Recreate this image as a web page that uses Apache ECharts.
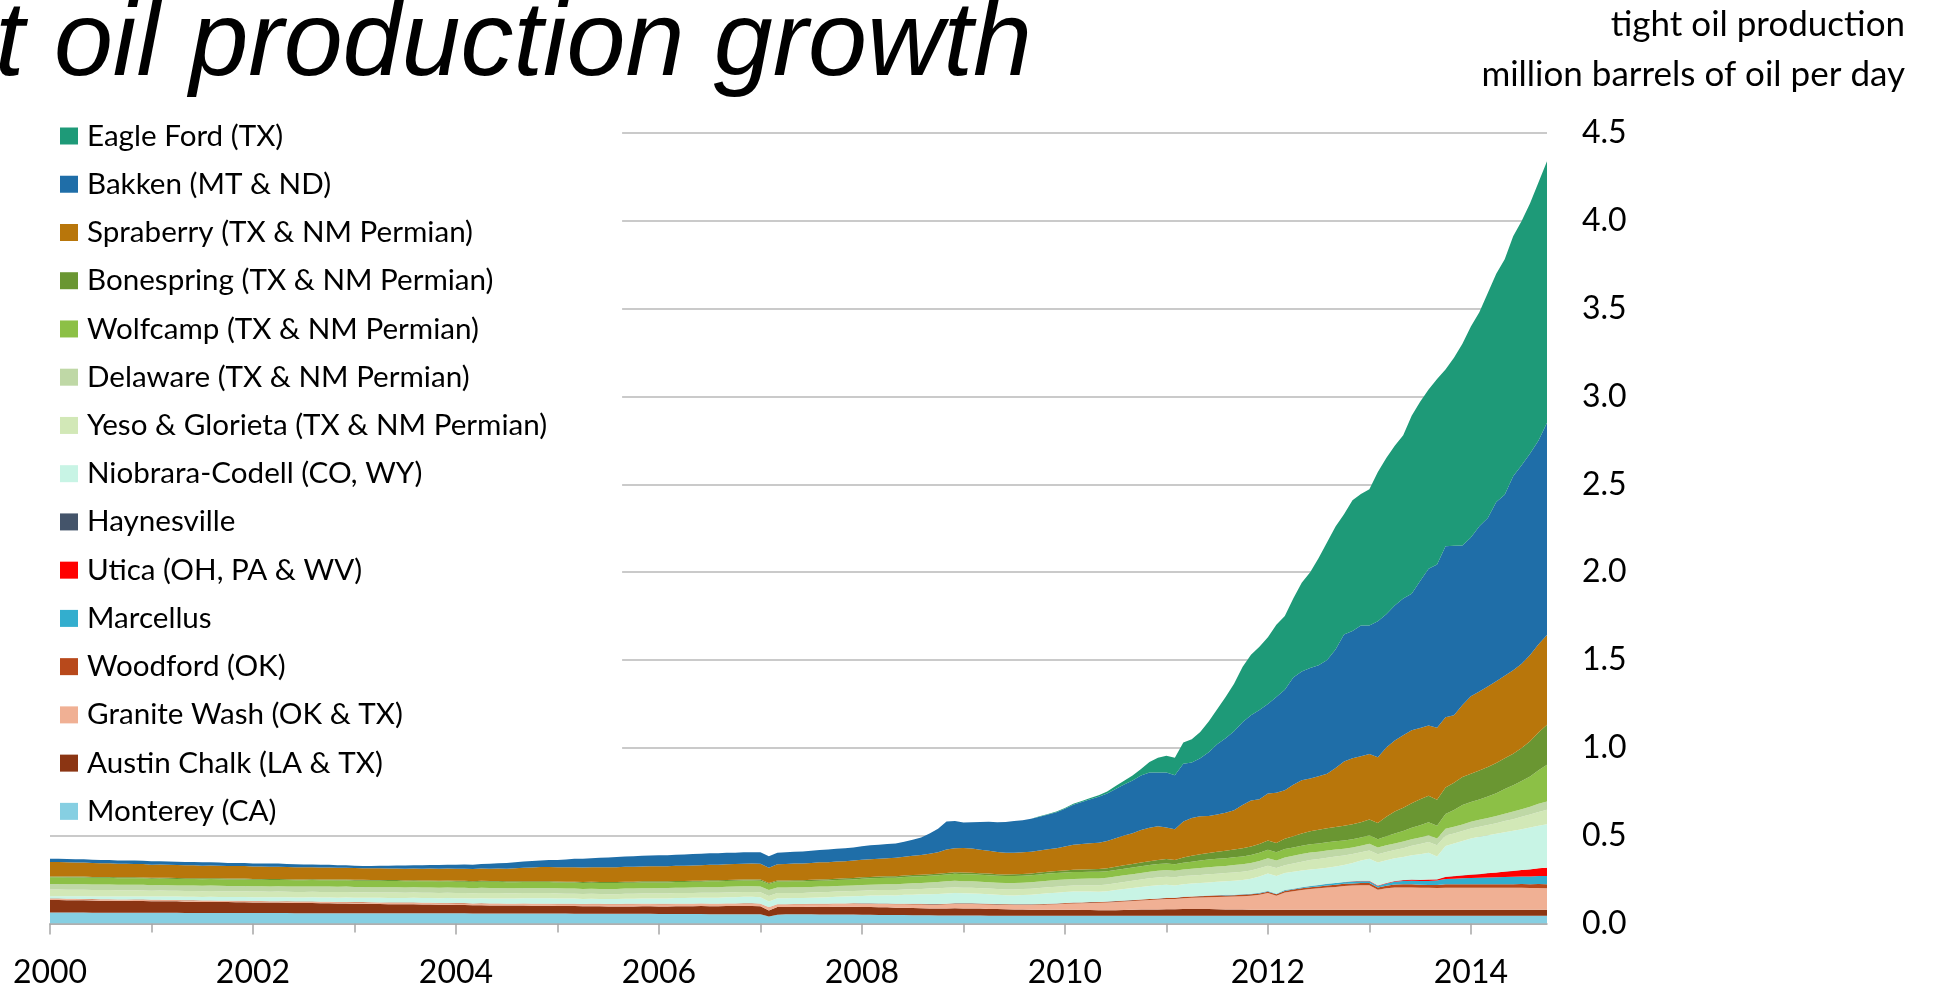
<!DOCTYPE html>
<html><head><meta charset="utf-8">
<script src="https://cdn.jsdelivr.net/npm/echarts@6/dist/echarts.min.js"></script>
<style>html,body{margin:0;padding:0;background:#fff}#c{width:1936px;height:989px}</style>
</head><body><div id="c"></div>
<script>
// monthly categories Jan 2000 .. Oct 2014
const firstYear = 2000, lastYear = 2014, lastMonth = 10;
const months = [];
for (let y = firstYear; y <= lastYear; y++) {
  for (let m = 1; m <= 12; m++) {
    if (y === lastYear && m > lastMonth) break;
    months.push(y + '-' + String(m).padStart(2, '0'));
  }
}
const yTicks = [0, 0.5, 1, 1.5, 2, 2.5, 3, 3.5, 4, 4.5];

// million barrels per day, one value per month (stack order bottom -> top)
const monterey = [
.062,.062,.062,.062,.062,.061,.061,.061,.061,.061,.061,.061,
.061,.061,.061,.061,.060,.060,.060,.060,.060,.060,.060,.060,
.060,.060,.060,.060,.060,.059,.059,.059,.059,.059,.059,.059,
.059,.059,.059,.058,.058,.058,.058,.058,.058,.058,.058,.058,
.058,.058,.057,.057,.057,.057,.057,.057,.057,.057,.057,.057,
.057,.057,.056,.056,.056,.056,.055,.055,.055,.055,.055,.055,
.054,.054,.054,.054,.054,.054,.053,.053,.053,.053,.053,.053,
.052,.040,.050,.052,.052,.052,.052,.051,.051,.051,.051,.051,
.050,.050,.049,.049,.048,.048,.047,.047,.047,.046,.046,.046,
.045,.045,.045,.044,.044,.044,.044,.044,.044,.044,.044,.044,
.044,.044,.044,.044,.044,.044,.044,.044,.044,.044,.044,.044,
.044,.044,.044,.044,.044,.044,.044,.044,.044,.044,.044,.044,
.044,.044,.044,.044,.044,.044,.044,.044,.044,.044,.044,.044,
.044,.044,.044,.044,.044,.044,.044,.044,.044,.044,.044,.044,
.044,.044,.044,.044,.044,.044,.044,.044,.044,.044];
const austinChalk = [
.072,.072,.071,.071,.070,.070,.069,.069,.068,.068,.067,.067,
.066,.066,.065,.065,.064,.064,.063,.063,.062,.062,.061,.061,
.060,.060,.059,.059,.058,.058,.057,.057,.056,.056,.055,.055,
.054,.054,.053,.053,.052,.052,.051,.051,.050,.050,.049,.049,
.048,.048,.047,.047,.046,.046,.045,.045,.045,.044,.044,.044,
.043,.043,.043,.042,.042,.042,.042,.042,.042,.042,.043,.043,
.043,.043,.044,.044,.044,.045,.045,.045,.046,.046,.047,.047,
.046,.034,.044,.042,.042,.042,.043,.043,.043,.044,.044,.044,
.044,.044,.043,.043,.042,.042,.041,.040,.039,.039,.040,.041,
.041,.041,.040,.039,.038,.037,.036,.035,.034,.034,.034,.034,
.034,.034,.033,.033,.032,.032,.032,.033,.034,.035,.036,.036,
.037,.037,.038,.038,.038,.038,.037,.036,.035,.035,.034,.034,
.034,.034,.034,.034,.034,.034,.034,.034,.034,.034,.034,.034,
.034,.034,.034,.034,.034,.034,.034,.034,.034,.034,.034,.034,
.034,.034,.034,.034,.034,.034,.034,.034,.034,.034];
const graniteWash = [
.006,.006,.006,.006,.006,.006,.006,.006,.006,.006,.006,.006,
.006,.006,.006,.006,.006,.006,.006,.006,.006,.006,.006,.006,
.006,.006,.006,.006,.006,.006,.007,.007,.007,.007,.007,.007,
.007,.007,.007,.007,.007,.007,.008,.008,.008,.008,.008,.008,
.008,.008,.008,.009,.009,.009,.009,.009,.010,.010,.010,.010,
.010,.010,.011,.011,.012,.012,.012,.012,.013,.013,.013,.013,
.013,.013,.013,.013,.013,.013,.013,.013,.013,.013,.013,.013,
.013,.017,.014,.014,.015,.015,.015,.016,.016,.017,.017,.018,
.018,.018,.019,.019,.019,.020,.020,.021,.021,.022,.023,.024,
.025,.025,.025,.025,.025,.025,.025,.026,.027,.028,.030,.032,
.034,.036,.038,.040,.042,.044,.046,.048,.050,.052,.054,.056,
.058,.058,.062,.064,.066,.068,.070,.072,.074,.076,.080,.085,
.095,.080,.098,.106,.112,.118,.122,.127,.130,.135,.138,.140,
.140,.114,.122,.127,.127,.127,.126,.126,.124,.126,.126,.126,
.126,.126,.126,.125,.125,.125,.125,.124,.124,.123];
const woodford = [
.002,.002,.002,.002,.002,.002,.002,.002,.002,.002,.002,.002,
.002,.002,.002,.002,.002,.002,.002,.002,.002,.002,.002,.002,
.002,.002,.002,.002,.002,.002,.002,.002,.002,.002,.002,.002,
.002,.002,.002,.002,.002,.002,.002,.002,.002,.002,.002,.002,
.002,.002,.002,.002,.002,.002,.002,.002,.002,.002,.002,.002,
.002,.002,.002,.002,.002,.002,.002,.002,.002,.002,.002,.002,
.002,.002,.002,.002,.002,.002,.002,.002,.002,.002,.002,.002,
.002,.002,.002,.002,.002,.002,.002,.002,.002,.002,.002,.002,
.002,.002,.002,.002,.002,.002,.003,.003,.003,.003,.003,.003,
.003,.003,.003,.003,.003,.003,.003,.003,.003,.003,.003,.003,
.004,.004,.004,.004,.004,.004,.005,.005,.005,.005,.005,.005,
.006,.006,.007,.007,.007,.008,.008,.008,.008,.008,.008,.008,
.008,.008,.009,.009,.010,.010,.011,.012,.013,.013,.012,.012,
.013,.013,.015,.017,.018,.018,.016,.015,.017,.019,.019,.019,
.019,.019,.020,.020,.021,.021,.022,.022,.023,.023];
const marcellus = [
0,0,0,0,0,0,0,0,0,0,0,0,
0,0,0,0,0,0,0,0,0,0,0,0,
0,0,0,0,0,0,0,0,0,0,0,0,
0,0,0,0,0,0,0,0,0,0,0,0,
0,0,0,0,0,0,0,0,0,0,0,0,
0,0,0,0,0,0,0,0,0,0,0,0,
0,0,0,0,0,0,0,0,0,0,0,0,
0,0,0,0,0,0,0,0,0,0,0,0,
0,0,0,0,0,0,0,0,0,0,0,0,
0,0,0,0,0,0,0,0,0,0,0,0,
0,0,0,0,0,0,0,0,0,0,0,0,
0,0,0,0,0,.001,.001,.002,.002,.002,.003,.003,
.003,.003,.004,.004,.005,.006,.007,.008,.009,.009,.010,.010,
.010,.009,.012,.016,.019,.021,.022,.023,.026,.030,.032,.034,
.036,.037,.038,.040,.041,.042,.043,.044,.046,.047];
const utica = [
0,0,0,0,0,0,0,0,0,0,0,0,
0,0,0,0,0,0,0,0,0,0,0,0,
0,0,0,0,0,0,0,0,0,0,0,0,
0,0,0,0,0,0,0,0,0,0,0,0,
0,0,0,0,0,0,0,0,0,0,0,0,
0,0,0,0,0,0,0,0,0,0,0,0,
0,0,0,0,0,0,0,0,0,0,0,0,
0,0,0,0,0,0,0,0,0,0,0,0,
0,0,0,0,0,0,0,0,0,0,0,0,
0,0,0,0,0,0,0,0,0,0,0,0,
0,0,0,0,0,0,0,0,0,0,0,0,
0,0,0,0,0,0,0,0,0,0,0,0,
0,0,0,0,0,0,0,0,0,0,.001,.002,
.002,.002,.003,.003,.004,.005,.006,.008,.006,.012,.014,.016,
.019,.021,.024,.027,.030,.033,.036,.040,.043,.047];
const haynesville = [
0,0,0,0,0,0,0,0,0,0,0,0,
0,0,0,0,0,0,0,0,0,0,0,0,
0,0,0,0,0,0,0,0,0,0,0,0,
0,0,0,0,0,0,0,0,0,0,0,0,
0,0,0,0,0,0,0,0,0,0,0,0,
0,0,0,0,0,0,0,0,0,0,0,0,
0,0,0,0,0,0,0,0,0,0,0,0,
0,0,0,0,0,0,0,0,0,0,0,0,
.001,.001,.001,.001,.001,.001,.001,.001,.001,.001,.001,.001,
.001,.001,.001,.001,.001,.001,.001,.001,.001,.001,.001,.001,
.001,.001,.001,.001,.001,.001,.001,.001,.001,.001,.001,.001,
.001,.001,.001,.001,.001,.001,.001,.001,.001,.001,.001,.001,
.001,.001,.001,.001,.001,.001,.001,.001,.001,.001,.001,.001,
.001,.001,.001,.001,.001,.001,.001,.001,.001,.001,.001,.001,
.001,.001,.001,.001,.001,.001,.001,.001,.001,.001];
const niobrara = [
.013,.013,.014,.014,.015,.015,.016,.016,.017,.017,.018,.018,
.018,.019,.019,.019,.020,.020,.020,.021,.021,.021,.022,.022,
.022,.022,.022,.023,.023,.023,.023,.024,.024,.024,.024,.025,
.025,.025,.025,.026,.026,.026,.026,.027,.027,.027,.027,.028,
.028,.028,.028,.029,.029,.029,.030,.030,.030,.031,.031,.031,
.031,.030,.030,.029,.029,.028,.028,.028,.029,.029,.030,.030,
.031,.031,.032,.032,.033,.033,.034,.034,.035,.036,.037,.037,
.036,.032,.034,.034,.034,.034,.035,.036,.037,.038,.039,.040,
.042,.044,.046,.047,.048,.050,.052,.054,.056,.057,.058,.058,
.057,.056,.055,.054,.052,.051,.051,.053,.055,.058,.060,.061,
.062,.063,.062,.060,.058,.059,.062,.065,.068,.071,.074,.076,
.075,.071,.072,.073,.074,.074,.076,.078,.080,.082,.085,.092,
.100,.100,.097,.097,.096,.095,.093,.091,.093,.097,.105,.115,
.125,.130,.129,.129,.132,.138,.145,.152,.130,.175,.185,.195,
.205,.212,.216,.220,.224,.228,.232,.237,.242,.246];
const yeso = [
.038,.038,.037,.037,.037,.036,.036,.036,.035,.035,.035,.034,
.034,.034,.034,.033,.033,.033,.033,.033,.033,.032,.032,.032,
.032,.032,.032,.032,.032,.032,.032,.032,.032,.032,.032,.032,
.031,.031,.031,.031,.031,.031,.030,.030,.030,.030,.030,.030,
.030,.030,.030,.030,.030,.030,.029,.029,.029,.029,.029,.029,
.028,.028,.028,.028,.028,.028,.028,.028,.028,.028,.028,.028,
.028,.028,.028,.028,.028,.028,.028,.028,.028,.028,.028,.028,
.029,.032,.029,.029,.029,.029,.029,.030,.030,.030,.030,.030,
.030,.030,.030,.030,.030,.030,.031,.031,.032,.032,.032,.032,
.032,.032,.032,.033,.033,.033,.034,.034,.034,.034,.034,.034,
.034,.034,.035,.036,.037,.038,.039,.040,.041,.042,.043,.044,
.045,.046,.046,.046,.046,.046,.046,.046,.047,.047,.047,.047,
.044,.046,.045,.047,.050,.053,.055,.057,.057,.054,.050,.047,
.047,.047,.047,.047,.050,.054,.058,.061,.064,.060,.058,.057,
.057,.057,.058,.060,.063,.066,.070,.074,.078,.082];
const delaware = [
.032,.032,.032,.032,.032,.032,.032,.032,.032,.032,.032,.032,
.031,.031,.031,.031,.031,.031,.031,.031,.031,.031,.031,.031,
.030,.030,.030,.030,.030,.030,.030,.030,.030,.030,.030,.030,
.030,.030,.030,.030,.030,.030,.030,.030,.030,.030,.030,.030,
.029,.029,.029,.029,.029,.029,.029,.029,.029,.029,.029,.029,
.029,.029,.029,.029,.029,.029,.030,.030,.030,.030,.030,.030,
.031,.031,.031,.031,.031,.031,.032,.032,.032,.032,.032,.032,
.032,.034,.032,.032,.032,.032,.032,.032,.032,.032,.032,.032,
.032,.032,.032,.032,.033,.033,.034,.034,.035,.036,.037,.038,
.037,.037,.036,.036,.036,.036,.036,.036,.037,.037,.038,.038,
.038,.038,.038,.038,.038,.038,.038,.038,.038,.038,.038,.038,
.038,.037,.038,.039,.040,.040,.041,.041,.042,.042,.042,.042,
.043,.043,.044,.044,.044,.043,.042,.041,.040,.039,.038,.038,
.038,.038,.038,.038,.038,.038,.038,.038,.038,.038,.038,.038,
.038,.039,.040,.041,.042,.043,.044,.045,.047,.048];
const wolfcamp = [
.038,.038,.038,.038,.038,.038,.038,.038,.037,.037,.037,.037,
.037,.037,.037,.037,.037,.037,.037,.037,.037,.037,.037,.037,
.037,.037,.037,.036,.036,.036,.036,.036,.036,.036,.036,.036,
.036,.036,.036,.036,.036,.036,.035,.035,.035,.035,.035,.035,
.035,.035,.035,.035,.035,.035,.034,.034,.034,.034,.034,.034,
.034,.034,.034,.034,.034,.034,.033,.033,.033,.033,.033,.033,
.032,.032,.032,.032,.032,.032,.033,.033,.033,.033,.033,.033,
.034,.034,.034,.034,.034,.034,.034,.034,.034,.034,.034,.034,
.036,.036,.037,.037,.037,.038,.038,.038,.038,.038,.039,.040,
.040,.040,.040,.040,.040,.040,.040,.040,.040,.040,.040,.040,
.039,.039,.038,.038,.038,.038,.038,.038,.038,.038,.038,.038,
.038,.037,.038,.040,.042,.044,.044,.044,.044,.045,.046,.047,
.048,.047,.048,.047,.047,.047,.047,.047,.047,.047,.047,.047,
.048,.048,.052,.056,.060,.065,.070,.075,.072,.085,.095,.110,
.112,.116,.122,.130,.140,.150,.160,.172,.190,.208];
const bonespring = [
.005,.005,.005,.005,.005,.005,.005,.005,.005,.005,.005,.005,
.005,.005,.005,.005,.005,.005,.005,.005,.005,.005,.005,.005,
.005,.005,.005,.005,.005,.005,.005,.005,.005,.005,.005,.005,
.005,.005,.005,.005,.005,.005,.005,.005,.005,.005,.005,.005,
.005,.005,.005,.005,.005,.005,.005,.005,.005,.005,.005,.005,
.005,.005,.005,.005,.005,.005,.006,.006,.006,.006,.006,.006,
.006,.006,.006,.006,.006,.006,.006,.006,.006,.006,.006,.006,
.006,.005,.006,.006,.006,.006,.007,.007,.007,.007,.008,.008,
.008,.008,.008,.009,.009,.009,.009,.009,.009,.009,.009,.009,
.009,.009,.009,.009,.009,.009,.010,.010,.010,.011,.011,.012,
.012,.013,.014,.015,.016,.017,.018,.019,.020,.021,.022,.023,
.025,.024,.030,.033,.036,.038,.040,.042,.044,.046,.048,.050,
.052,.052,.058,.064,.070,.074,.077,.080,.082,.084,.085,.086,
.090,.092,.110,.125,.132,.140,.148,.150,.148,.150,.155,.160,
.162,.165,.168,.172,.176,.180,.188,.200,.215,.228];
const spraberry = [
.082,.082,.081,.080,.080,.079,.078,.078,.077,.077,.076,.076,
.075,.075,.074,.074,.073,.073,.072,.072,.072,.071,.071,.071,
.070,.070,.070,.070,.069,.069,.069,.068,.068,.068,.067,.067,
.067,.066,.066,.066,.066,.066,.067,.067,.067,.068,.068,.068,
.069,.069,.069,.070,.070,.071,.072,.074,.076,.078,.080,.081,
.081,.082,.082,.083,.083,.084,.084,.084,.085,.085,.085,.086,
.086,.086,.087,.087,.087,.088,.088,.088,.089,.089,.089,.090,
.090,.088,.092,.094,.095,.096,.096,.097,.097,.098,.098,.099,
.100,.101,.102,.103,.105,.107,.109,.112,.116,.122,.133,.137,
.140,.138,.134,.130,.126,.124,.123,.123,.124,.126,.127,.130,
.136,.142,.146,.148,.150,.155,.162,.170,.175,.185,.190,.193,
.180,.175,.204,.215,.216,.210,.212,.216,.224,.247,.262,.254,
.268,.287,.276,.293,.302,.300,.305,.310,.335,.365,.375,.376,
.373,.375,.395,.405,.412,.415,.405,.400,.410,.400,.385,.410,
.440,.450,.458,.465,.470,.474,.480,.492,.502,.512];
const bakken = [
.019,.019,.019,.019,.019,.019,.019,.019,.019,.019,.019,.019,
.019,.019,.019,.019,.019,.019,.019,.018,.018,.018,.018,.018,
.018,.018,.018,.018,.017,.017,.016,.016,.015,.015,.014,.014,
.013,.013,.014,.015,.016,.017,.018,.019,.019,.020,.021,.022,
.023,.024,.025,.026,.028,.030,.032,.034,.036,.037,.038,.040,
.042,.045,.048,.050,.052,.054,.056,.058,.059,.060,.060,.061,
.062,.063,.063,.064,.065,.065,.066,.066,.066,.065,.065,.065,
.065,.065,.066,.066,.067,.068,.069,.070,.072,.073,.074,.075,
.077,.079,.080,.080,.082,.086,.092,.100,.115,.135,.160,.155,
.145,.150,.158,.165,.170,.175,.180,.183,.187,.192,.198,.205,
.215,.228,.238,.250,.262,.270,.280,.290,.300,.310,.315,.305,
.313,.308,.330,.316,.330,.363,.400,.425,.450,.470,.485,.508,
.510,.545,.572,.610,.620,.630,.632,.648,.675,.723,.725,.745,
.732,.773,.758,.768,.779,.777,.837,.893,.930,.974,.964,.908,
.905,.941,.960,1.020,1.030,1.105,1.130,1.146,1.161,1.207];
const eagleFord = [
0,0,0,0,0,0,0,0,0,0,0,0,
0,0,0,0,0,0,0,0,0,0,0,0,
0,0,0,0,0,0,0,0,0,0,0,0,
0,0,0,0,0,0,0,0,0,0,0,0,
0,0,0,0,0,0,0,0,0,0,0,0,
0,0,0,0,0,0,0,0,0,0,0,0,
0,0,0,0,0,0,0,0,0,0,0,0,
0,0,0,0,0,0,0,0,0,0,0,0,
0,0,0,0,0,0,0,0,0,0,0,0,
0,0,0,0,0,0,0,0,0,.002,.003,.004,
.005,.006,.007,.007,.008,.012,.018,.022,.028,.038,.060,.085,
.095,.100,.120,.133,.150,.175,.200,.235,.270,.315,.345,.360,
.380,.410,.420,.450,.505,.545,.610,.670,.700,.685,.745,.748,
.775,.850,.890,.910,.930,1.013,1.020,1.020,1.056,1.006,1.070,1.148,
1.200,1.218,1.280,1.300,1.340,1.366,1.390,1.425,1.470,1.489];

// stack order, bottom first
const plays = [
  {name: 'Monterey (CA)', data: monterey, color: '#86cfe2'},
  {name: 'Austin Chalk (LA & TX)', data: austinChalk, color: '#8b3513'},
  {name: 'Granite Wash (OK & TX)', data: graniteWash, color: '#f0b094'},
  {name: 'Woodford (OK)', data: woodford, color: '#b8491b'},
  {name: 'Marcellus', data: marcellus, color: '#33aece'},
  {name: 'Utica (OH, PA & WV)', data: utica, color: '#ff0000'},
  {name: 'Haynesville', data: haynesville, color: '#44546a'},
  {name: 'Niobrara-Codell (CO, WY)', data: niobrara, color: '#c8f4e5'},
  {name: 'Yeso & Glorieta (TX & NM Permian)', data: yeso, color: '#d2e8b7'},
  {name: 'Delaware (TX & NM Permian)', data: delaware, color: '#bfd8a6'},
  {name: 'Wolfcamp (TX & NM Permian)', data: wolfcamp, color: '#8cc046'},
  {name: 'Bonespring (TX & NM Permian)', data: bonespring, color: '#6a9632'},
  {name: 'Spraberry (TX & NM Permian)', data: spraberry, color: '#b8760b'},
  {name: 'Bakken (MT & ND)', data: bakken, color: '#1f6ea8'},
  {name: 'Eagle Ford (TX)', data: eagleFord, color: '#1e9a78'}
];

const axisGray = '#a6a6a6';
const chart = echarts.init(document.getElementById('c'), null, {renderer: 'canvas'});
chart.setOption({
  animation: false,
  backgroundColor: '#ffffff',
  title: [
    {text: 't oil production growth', left: -5, top: -7, padding: 0,
     textStyle: {fontFamily: 'Liberation Sans', fontStyle: 'italic', fontWeight: 'normal', fontSize: 106, color: '#000'}},
    {text: 'tight oil production\nmillion barrels of oil per day', left: 1905, top: 0, padding: 0, textAlign: 'right',
     textStyle: {fontFamily: 'Lato', fontWeight: 'normal', fontSize: 35, lineHeight: 49.5, color: '#000'}}
  ],
  legend: {
    orient: 'vertical', left: 48, top: 109, padding: [12, 75, 5, 12],
    backgroundColor: '#ffffff',
    itemWidth: 22, itemHeight: 17, itemGap: 18.24,
    icon: 'path://M0,0h18v17h-18z M22,17',
    itemStyle: {borderWidth: 0},
    selectedMode: false,
    textStyle: {fontFamily: 'Lato', fontSize: 29.6, lineHeight: 30, color: '#000'},
    data: plays.map(p => p.name).reverse()
  },
  grid: {left: 50, right: 389, top: 133, bottom: 65},
  xAxis: [{
    type: 'category', data: months, boundaryGap: false, position: 'bottom',
    axisLine: {lineStyle: {color: axisGray, width: 1.5}},
    axisTick: {interval: (i) => i % 24 === 0, length: 11, lineStyle: {color: axisGray, width: 1.5}},
    axisLabel: {interval: (i) => i % 24 === 0, formatter: (v) => v.slice(0, 4), margin: 33.5,
      fontFamily: 'Lato', fontSize: 32, color: '#000'},
    splitLine: {show: false}
  }, {
    type: 'category', data: months, boundaryGap: false, position: 'bottom',
    axisLine: {show: false},
    axisTick: {interval: (i) => i % 24 === 12, length: 9, lineStyle: {color: axisGray, width: 1.5}},
    axisLabel: {show: false},
    splitLine: {show: false}
  }],
  yAxis: {
    type: 'value', position: 'right', min: yTicks[0], max: yTicks[yTicks.length - 1], interval: 0.5,
    axisLine: {show: false}, axisTick: {show: false},
    axisLabel: {margin: 35, fontFamily: 'Lato', fontSize: 32, color: '#000', formatter: (v) => v.toFixed(1)},
    splitLine: {lineStyle: {color: '#b8b8b8', width: 1.5}}
  },
  series: plays.map(p => ({
    name: p.name, type: 'line', stack: 'tight', data: p.data, color: p.color,
    xAxisIndex: 0, symbol: 'none', smooth: false,
    lineStyle: {width: 0},
    itemStyle: {color: p.color},
    areaStyle: {color: p.color, opacity: 1},
    emphasis: {disabled: true}
  }))
});
</script>
</body></html>
